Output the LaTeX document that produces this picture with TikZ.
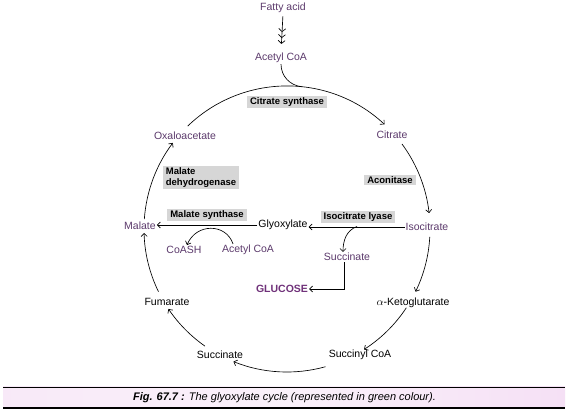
\documentclass[tikz,border=0pt]{standalone}
\usepackage{fontspec}
\setmainfont{Liberation Sans}
\usetikzlibrary{arrows.meta,calc}
\definecolor{purp}{RGB}{92,58,108}
\definecolor{gluc}{RGB}{112,50,122}
\definecolor{enzgray}{RGB}{214,214,214}
\definecolor{pinkband}{RGB}{245,224,245}
\begin{document}
\begin{tikzpicture}[x=1pt,y=1pt,
  lbl/.style={inner sep=1pt, font=\fontsize{10.5}{12}\selectfont},
  plbl/.style={lbl, text=purp},
  blbl/.style={lbl, text=black},
  enz/.style={fill=enzgray, inner xsep=3pt, inner ysep=2pt, font=\fontsize{9.5}{10.5}\selectfont\bfseries},
  tip/.tip={Straight Barb[length=3pt,width=6pt]},
  conn/.style={line width=0.65pt, -tip},
  plain/.style={line width=0.65pt}
]
\useasboundingbox (0,0) rectangle (568,415);
\fill[white] (0,0) rectangle (568,415);

\coordinate (C) at (287,186);

% labels
\node[plbl] (fatty) at (283,407) {Fatty acid};
\node[plbl] (acetyl1) at (281,357) {Acetyl CoA};
\node[enz] (cs) at (287,313) {Citrate synthase};
\node[plbl] (oxalo) at (185,279) {Oxaloacetate};
\node[plbl] (citrate) at (392,280) {Citrate};
\node[enz, align=left] (mdh) at (201,237.5) {Malate\\dehydrogenase};
\node[enz] (acon) at (390,235) {Aconitase};
\node[enz] (ms) at (207,200) {Malate synthase};
\node[enz] (il) at (358,198) {Isocitrate lyase};
\node[plbl] (malate) at (140,189) {Malate};
\node[blbl] (glyox) at (283,190) {Glyoxylate};
\node[plbl] (isocit) at (427,188) {Isocitrate};
\node[plbl] (coash) at (184,165) {CoASH};
\node[plbl] (acetyl2) at (248,165) {Acetyl CoA};
\node[plbl] (succ2) at (347,158) {Succinate};
\node[lbl, text=gluc, font=\fontsize{10.5}{12}\selectfont\bfseries] (glucose) at (282,126) {GLUCOSE};
\node[blbl] (fum) at (167,113) {Fumarate};
\node[blbl] (akg) at (413,112) {$\alpha$-Ketoglutarate};
\node[blbl] (succoa) at (360,60) {Succinyl CoA};
\node[blbl] (succ) at (220,60) {Succinate};

% fatty acid -> acetyl CoA (triple arrow)
\draw[line width=0.65pt, shorten <=2pt, shorten >=8pt,
  -{Straight Barb[length=3pt,width=7pt,sep=2.2pt]Straight Barb[length=3pt,width=7pt,sep=2.2pt]Straight Barb[length=3pt,width=7pt]}]
  (fatty.south) -- (acetyl1.north);
% acetyl CoA joins the cycle
\draw[plain] (acetyl1.south) to[out=-90,in=174] ($(C)+(84:143)$);

% cycle
\draw[conn] ($(C)+(134:143)$) arc[start angle=134,end angle=47,radius=143];
\draw[conn] ($(C)+(36.5:143)$) arc[start angle=36.5,end angle=6.4,radius=143];
\draw[conn] ($(C)+(-3.2:143)$) arc[start angle=-3.2,end angle=-26,radius=143];
\draw[conn] ($(C)+(-33.4:143)$) arc[start angle=-33.4,end angle=-57.4,radius=143];
\draw[conn] ($(C)+(-74.4:143)$) arc[start angle=-74.4,end angle=-112,radius=143];
\draw[conn] ($(C)+(-125:143)$) arc[start angle=-125,end angle=-146,radius=143];
\draw[conn] ($(C)+(-154:143)$) arc[start angle=-154,end angle=-178.4,radius=143];
\draw[conn] ($(C)+(176:143)$) arc[start angle=176,end angle=143,radius=143];

% glyoxylate bypass
\draw[conn] (isocit.west) -- (isocit.west -| glyox.east);
\draw[conn] (glyox.west) -- (glyox.west -| malate.east);
\coordinate (br) at (357,188.5);
\draw[conn] (br) to[out=200,in=90] ([xshift=-4pt]succ2.north);
\draw[conn] ([xshift=-3pt]succ2.south) |- (glucose.east);
\draw[conn] ([xshift=-15pt]acetyl2.north) .. controls (226,192) and (196,192) .. ([xshift=3pt]coash.north);

% caption
\shade[left color=pinkband!70, right color=pinkband, middle color=pinkband!45] (3,7) rectangle (565,28);
\draw[line width=0.7pt] (3,28) -- (565,28);
\draw[line width=1.4pt] (3,7) -- (565,7);
\node[inner sep=1pt, font=\fontsize{11}{13}\selectfont\itshape] (cap) at (284.5,17.5)
  {\textbf{Fig. 67.7 :} The glyoxylate cycle (represented in green colour).};
\end{tikzpicture}
\end{document}
